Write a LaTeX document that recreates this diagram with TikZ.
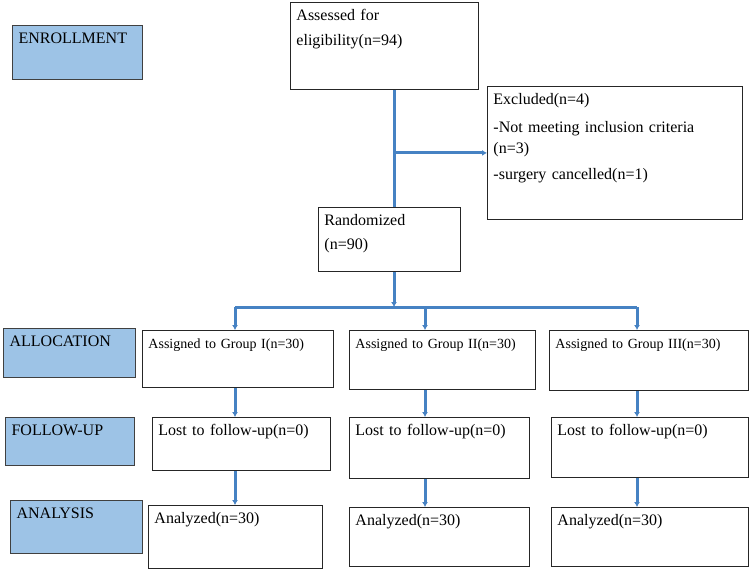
\documentclass[tikz,border=0pt]{standalone}
\usepackage{fontspec}
\setmainfont{Liberation Serif}
\usetikzlibrary{arrows.meta}

\definecolor{flowblue}{RGB}{70,130,195}
\definecolor{stageblue}{RGB}{157,195,230}

\begin{document}
\begin{tikzpicture}[x=1pt, y=-1pt, >={Latex[length=5pt,width=6pt]},
  box/.style={draw=black!85, line width=0.9pt, anchor=north west, align=left,
    inner xsep=6pt, inner ysep=6pt, text height=12pt,
    font=\fontsize{16}{22}\selectfont},
  stage/.style={box, fill=stageblue, draw=black!75, line width=1.2pt},
  small/.style={font=\fontsize{14}{20}\selectfont},
  flow/.style={draw=flowblue, line width=3pt}]
  \useasboundingbox (0,0) rectangle (751,572);

  % --- Stage labels ---
  \node[stage, text width=118pt, text depth=30pt] (enrol)  at (12,25)  {ENROLLMENT};
  \node[stage, text width=120pt, text depth=25pt] (alloc)  at (3,328)  {ALLOCATION};
  \node[stage, text width=117pt, text depth=24pt] (follow) at (5,417)  {FOLLOW-UP};
  \node[stage, text width=120pt, text depth=29pt] (anal)   at (10,500) {ANALYSIS};

  % --- Enrollment ---
  \node[box, text width=176pt, text depth=63pt] (assess) at (290,2)
    {Assessed for\\[3pt]eligibility(n=94)};
  \node[box, text width=243pt, text depth=109pt, font=\fontsize{16}{21}\selectfont] (excl) at (487,86)
    {Excluded(n=4)\\[7pt]-Not meeting inclusion criteria\\(n=3)\\[5pt]-surgery cancelled(n=1)};
  \node[box, text width=130pt, text depth=40pt] (rand) at (318,207)
    {Randomized\\[2pt](n=90)};

  % --- Groups ---
  \node[box, small, text width=179pt, text depth=33pt] (g1) at (142,330) {Assigned to Group I(n=30)};
  \node[box, small, text width=174pt, text depth=35pt] (g2) at (349,330) {Assigned to Group II(n=30)};
  \node[box, small, text width=187pt, text depth=36pt] (g3) at (549,330) {Assigned to Group III(n=30)};

  \node[box, text width=166pt, text depth=29pt] (lost1) at (152,417) {Lost to follow-up(n=0)};
  \node[box, text width=168pt, text depth=37pt] (lost2) at (349,417) {Lost to follow-up(n=0)};
  \node[box, text width=185pt, text depth=36pt] (lost3) at (551,417) {Lost to follow-up(n=0)};

  \node[box, text width=162pt, text depth=39pt] (an1) at (148,505) {Analyzed(n=30)};
  \node[box, text width=168pt, text depth=35pt] (an2) at (349,507) {Analyzed(n=30)};
  \node[box, text width=185pt, text depth=35pt] (an3) at (551,507) {Analyzed(n=30)};

  % --- Connectors ---
  \coordinate (trunk) at (394,0);
  \coordinate (split) at (0,307);
  \coordinate (col1) at (235,0);
  \coordinate (col2) at (425,0);
  \coordinate (col3) at (637,0);

  \draw[flow] (assess.south -| trunk) -- (rand.north -| trunk);
  \draw[flow, ->] (trunk |- excl.west) -- (excl.west);
  \draw[flow, ->] (rand.south -| trunk) -- (trunk |- split);
  \draw[flow] (col1 |- split) -- (col3 |- split);

  \foreach \i in {1,2,3} {
    \draw[flow, ->] (col\i |- split) -- (col\i |- g\i.north);
    \draw[flow, ->] (col\i |- g\i.south) -- (col\i |- lost\i.north);
    \draw[flow, ->] (col\i |- lost\i.south) -- (col\i |- an\i.north);
  }
\end{tikzpicture}
\end{document}
